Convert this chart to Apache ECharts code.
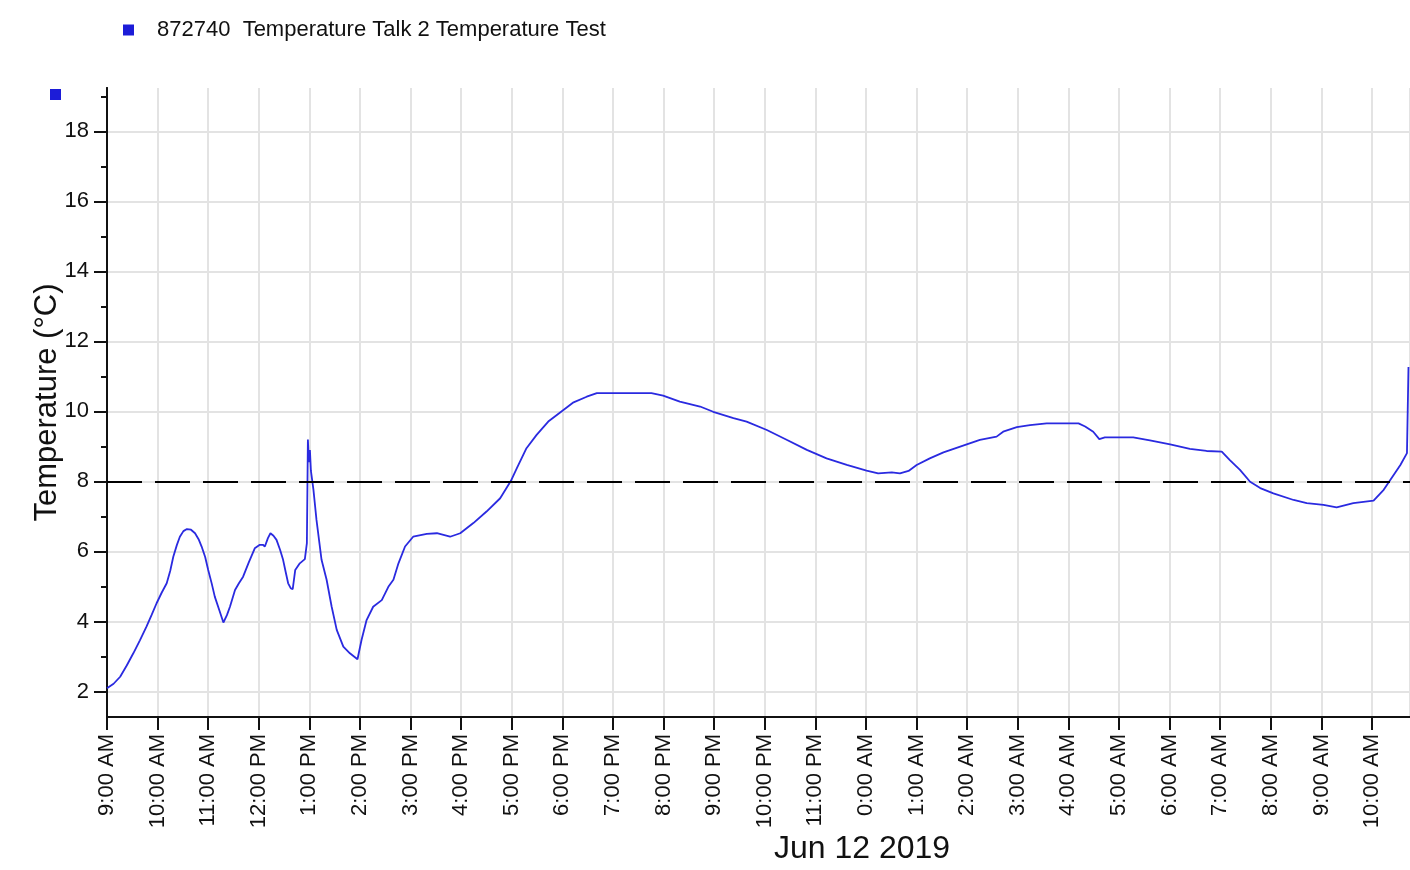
<!DOCTYPE html>
<html>
<head>
<meta charset="utf-8">
<script src="https://cdn.jsdelivr.net/npm/echarts@6/dist/echarts.min.js"></script>
<style>
html,body{margin:0;padding:0;background:#fff;}
#chart{width:1410px;height:870px;}
</style>
</head>
<body>
<div id="chart"></div>
<script>
// ---- data (hours after 9:00 AM, temperature °C) ----
const seriesName = '872740  Temperature Talk 2 Temperature Test';
const dateLabel = 'Jun 12 2019';
const yAxisName = 'Temperature (°C)';
const thresholdC = 8;
const xTickLabels = ['9:00 AM','10:00 AM','11:00 AM','12:00 PM','1:00 PM','2:00 PM','3:00 PM','4:00 PM','5:00 PM','6:00 PM','7:00 PM','8:00 PM','9:00 PM','10:00 PM','11:00 PM','0:00 AM','1:00 AM','2:00 AM','3:00 AM','4:00 AM','5:00 AM','6:00 AM','7:00 AM','8:00 AM','9:00 AM','10:00 AM'];
const yMajorTicks = [2,4,6,8,10,12,14,16,18];
const yMinorTicks = [3,5,7,9,11,13,15,17,19];
const timesH = [0.00,0.13,0.26,0.39,0.52,0.65,0.78,0.88,0.98,1.08,1.18,1.25,1.31,1.38,1.44,1.51,1.58,1.66,1.74,1.81,1.87,1.94,2.00,2.07,2.13,2.22,2.30,2.37,2.43,2.53,2.61,2.69,2.80,2.92,3.02,3.08,3.12,3.18,3.23,3.29,3.35,3.42,3.48,3.53,3.58,3.63,3.67,3.70,3.72,3.81,3.91,3.95,3.97,3.99,4.01,4.03,4.08,4.14,4.24,4.34,4.44,4.54,4.67,4.80,4.95,5.03,5.13,5.26,5.43,5.56,5.66,5.76,5.89,6.05,6.32,6.52,6.78,6.98,7.24,7.50,7.77,7.98,8.10,8.29,8.49,8.72,9.02,9.22,9.48,9.68,10.76,10.99,11.32,11.72,11.98,12.38,12.64,13.04,13.43,13.83,14.22,14.62,15.01,15.24,15.51,15.67,15.84,16.00,16.26,16.53,16.99,17.25,17.58,17.71,17.98,18.24,18.57,19.20,19.33,19.49,19.61,19.72,20.28,20.61,21.01,21.40,21.73,22.03,22.19,22.39,22.59,22.79,23.05,23.45,23.71,24.04,24.30,24.63,25.03,25.23,25.36,25.56,25.69,25.72];
const tempsC = [2.09,2.22,2.42,2.74,3.09,3.46,3.85,4.18,4.52,4.82,5.09,5.45,5.85,6.18,6.42,6.58,6.64,6.62,6.52,6.35,6.14,5.84,5.47,5.08,4.71,4.32,3.97,4.18,4.42,4.90,5.10,5.28,5.68,6.09,6.19,6.19,6.14,6.38,6.52,6.45,6.33,6.05,5.76,5.42,5.09,4.95,4.92,5.25,5.47,5.66,5.78,6.24,9.20,8.55,8.90,8.30,7.76,6.90,5.76,5.19,4.42,3.76,3.28,3.09,2.92,3.47,4.04,4.42,4.61,4.99,5.19,5.66,6.14,6.42,6.50,6.52,6.42,6.52,6.81,7.14,7.52,8.01,8.38,8.95,9.33,9.71,10.04,10.26,10.42,10.52,10.52,10.45,10.28,10.14,9.99,9.81,9.71,9.47,9.19,8.90,8.66,8.47,8.31,8.23,8.26,8.23,8.30,8.47,8.66,8.83,9.06,9.19,9.28,9.42,9.55,9.61,9.66,9.66,9.57,9.42,9.21,9.26,9.26,9.17,9.06,8.93,8.87,8.85,8.61,8.33,7.99,7.81,7.66,7.47,7.38,7.33,7.26,7.38,7.45,7.76,8.04,8.47,8.81,11.27];

const seriesData = timesH.map((h, i) => [h, tempsC[i]]);
const FONT = "'Liberation Sans', Arial, sans-serif";
const LINE_BLUE = '#2a2ae0';
const MARK_BLUE = '#1c1cd8';

const chart = echarts.init(document.getElementById('chart'), null, {renderer: 'canvas'});
chart.setOption({
  animation: false,
  backgroundColor: '#ffffff',
  textStyle: {fontFamily: FONT},
  legend: {
    left: 118, top: 14,
    icon: 'rect', itemWidth: 11, itemHeight: 11,
    itemStyle: {color: MARK_BLUE},
    textStyle: {fontFamily: FONT, fontSize: 22, color: '#111', padding: [0,0,0,18]},
    data: [seriesName]
  },
  grid: {left: 107, right: 0, top: 88, bottom: 153, containLabel: false, outerBoundsMode: 'none'},
  xAxis: {
    type: 'value', min: 0, max: 25.75, interval: 1,
    name: dateLabel, nameLocation: 'middle', nameGap: 116, nameMoveOverlap: false,
    nameTextStyle: {fontFamily: FONT, fontSize: 32, color: '#111', padding: [0,0,0,207]},
    axisLine: {show: true, onZero: false, lineStyle: {color: '#111', width: 2}},
    axisTick: {show: true, length: 13, lineStyle: {color: '#111', width: 2}},
    axisLabel: {
      rotate: 90, margin: 17, fontFamily: FONT, fontSize: 22, color: '#111',
      showMaxLabel: false, hideOverlap: false,
      formatter: v => { const k = Math.round(v); return Math.abs(v - k) < 1e-6 && xTickLabels[k] ? xTickLabels[k] : ''; }
    },
    splitLine: {show: true, lineStyle: {color: '#e3e3e3', width: 2}}
  },
  yAxis: [{
    type: 'value', min: 1.27, max: 19.24, position: 'left',
    name: yAxisName, nameLocation: 'middle', nameGap: 44, nameMoveOverlap: false,
    nameTextStyle: {fontFamily: FONT, fontSize: 31, color: '#111'},
    axisLine: {show: true, onZero: false, lineStyle: {color: '#111', width: 2}},
    axisTick: {show: true, length: 13, customValues: yMajorTicks, lineStyle: {color: '#111', width: 2}},
    axisLabel: {customValues: yMajorTicks, margin: 18, fontFamily: FONT, fontSize: 22, color: '#111'},
    splitLine: {show: true, lineStyle: {color: '#e3e3e3', width: 2}}
  }, {
    type: 'value', min: 1.27, max: 19.24, position: 'left', offset: 0,
    axisLine: {show: true, onZero: false, lineStyle: {color: '#111', width: 2}},
    axisTick: {show: true, length: 6, customValues: yMinorTicks, lineStyle: {color: '#111', width: 2}},
    axisLabel: {show: false},
    splitLine: {show: false}
  }],
  graphic: [{
    type: 'rect', left: 50, top: 89, shape: {width: 11, height: 11}, style: {fill: MARK_BLUE}
  }],
  series: [{
    name: seriesName,
    type: 'line',
    yAxisIndex: 0,
    data: seriesData,
    showSymbol: false,
    symbol: 'none',
    itemStyle: {color: MARK_BLUE},
    lineStyle: {color: LINE_BLUE, width: 1.8},
    markLine: {
      silent: true, symbol: 'none', label: {show: false},
      lineStyle: {color: '#000', width: 2, type: [35, 13]},
      data: [{yAxis: thresholdC}]
    }
  }]
});
</script>
</body>
</html>
